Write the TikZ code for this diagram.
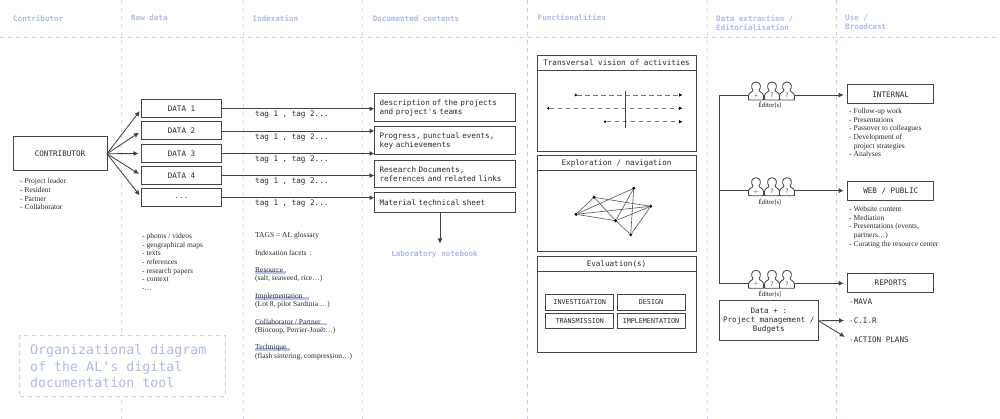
\documentclass[tikz,border=0pt]{standalone}
\usepackage{fontspec}
\setmainfont{Liberation Serif}
\setmonofont{DejaVu Sans Mono}
\newfontfamily\edfont{Carlito}
\usetikzlibrary{arrows.meta,calc}
\definecolor{guide}{HTML}{D3D7F3}
\definecolor{guideb}{HTML}{CBD1F2}
\definecolor{headblue}{HTML}{AFBAE8}
\definecolor{hilite}{HTML}{B7C3EE}
\definecolor{ink}{HTML}{444444}
\definecolor{txt}{HTML}{2A2A2A}
\tikzset{
  x=1pt,y=-1pt,
  guideline/.style={draw=guide,line width=0.9pt,dash pattern=on 4pt off 4pt},
  guidebold/.style={draw=guideb,line width=1pt,dash pattern=on 4pt off 4pt},
  header/.style={anchor=west,inner sep=0,font=\ttfamily\bfseries\fontsize{7.55}{9}\selectfont,text=headblue,align=left},
  box/.style={draw=ink,line width=1pt,fill=white,outer sep=0pt,font=\ttfamily\fontsize{7.6}{9.3}\selectfont,text=txt,inner sep=0,align=center},
  lbox/.style={box,align=left,text width=134pt},
  arr/.style={draw=ink,line width=0.85pt,-{Latex[length=5pt,width=5pt]}},
  plain/.style={draw=ink,line width=0.85pt},
  mono/.style={anchor=west,inner sep=0,font=\ttfamily\fontsize{7.6}{9}\selectfont,text=txt},
  serif/.style={anchor=west,inner sep=0,font=\fontsize{7.5}{8.67}\selectfont,text=txt,align=left},
  ser/.style={serif,text=txt},
  dotn/.style={circle,fill=black,inner sep=0,minimum size=3.4pt},
  smalldot/.style={circle,fill=black,inner sep=0,minimum size=2.6pt},
  netedge/.style={draw=ink!85,line width=0.65pt},
  edl/.style={inner sep=0,font=\edfont\fontsize{6.6}{8}\selectfont,text=txt},
  edgroup/.style={inner sep=0,outer sep=0pt,minimum width=44.6pt,minimum height=20pt},
  person/.pic={
    \path[draw=ink,line width=0.85pt,fill=white]
      (-7.5,3.5) -- (-7.5,1) .. controls (-7.5,-3) and (-3,-2.5) .. (-3,-5)
      .. controls (-5.5,-7) and (-5,-13) .. (0,-13)
      .. controls (5,-13) and (5.5,-7) .. (3,-5)
      .. controls (3,-2.5) and (7.5,-3) .. (7.5,1) -- (7.5,3.5)
      .. controls (7.5,5) and (7.5,5) .. (6,5) -- (-6,5)
      .. controls (-7.5,5) and (-7.5,5) .. (-7.5,3.5) -- cycle;
    \node[inner sep=0,font=\fontsize{6.5}{7}\selectfont\sffamily,text=txt] at (0,0.7) {\tikzpictext};
  }
}
\begin{document}
\begin{tikzpicture}
\useasboundingbox (0,0) rectangle (1000,419);
\fill[white] (0,0) rectangle (1000,419);
% guides
\foreach \gx in {121.5,243.5,362.5,707.5} \draw[guideline] (\gx,0) -- (\gx,419);
\foreach \gx in {527,836} \draw[guidebold] (\gx,0) -- (\gx,419);
\draw[guidebold] (0,37.5) -- (1000,37.5);
% headers
\node[header] (h1) at (13,18) {Contributor};
\node[header] (h2) at (131,18) {Raw data};
\node[header] (h3) at (252.5,18) {Indexation};
\node[header] (h4) at (372.7,18.5) {Documented contents};
\node[header] (h5) at (537.5,17.5) {Functionalities};
\node[header,anchor=north west] (h6) at (716,15) {Data extraction /\\Editorialisation};
\node[header,anchor=north west] (h7) at (845,15) {Use /\\Broadcast};
% title
\node[draw=guideb,line width=0.9pt,dash pattern=on 4pt off 4pt,fill=white,outer sep=0pt,anchor=north west,inner sep=0,minimum width=206pt,minimum height=60.5pt] (titlebox) at (19.5,335.5) {};
\node[anchor=north west,inner sep=0,align=left,font=\ttfamily\fontsize{13.3}{16.4}\selectfont,text=headblue] (title) at (30,344.3) {Organizational diagram\\of the AL's digital\\documentation tool};
% contributor
\node[box,anchor=north west,minimum width=94pt,minimum height=34.5pt] (con) at (13,136.5) {CONTRIBUTOR};
\node[ser,anchor=north west] (conl) at (20,178.5) {- Project leader\\- Resident\\- Partner\\- Collaborator};
% data
\node[box,anchor=north west,minimum width=80pt,minimum height=18.5pt] (d1) at (141.5,99.5) {DATA 1};
\node[box,anchor=north west,minimum width=80pt,minimum height=18pt] (d2) at (141.5,122) {DATA 2};
\node[box,anchor=north west,minimum width=80pt,minimum height=18pt] (d3) at (141.5,144.5) {DATA 3};
\node[box,anchor=north west,minimum width=80pt,minimum height=18pt] (d4) at (141.5,166.5) {DATA 4};
\node[box,anchor=north west,minimum width=80pt,minimum height=18.5pt] (d5) at (141.5,188.5) {...};
\foreach \n in {d1,d2,d3,d4,d5} \draw[arr,shorten >=3pt] (con.east) -- (\n.west);
% raw list
\node[ser,anchor=north west] (rawl) at (142,233) {- photos / videos\\- geographical maps\\- texts\\- references\\- research papers\\- context\\-…};
% contents
\node[lbox,anchor=north west,minimum height=27.5pt,text width=141pt] (c1) at (374.5,94) {\hspace*{5pt}description of the projects\\\hspace*{5pt}and project's teams};
\node[lbox,anchor=north west,minimum height=28.5pt,text width=141pt] (c2) at (374.5,126.5) {\hspace*{5pt}Progress, punctual events,\\\hspace*{5pt}key achievements};
\node[lbox,anchor=north west,minimum height=27.5pt,text width=141pt] (c3) at (374.5,160.5) {\hspace*{5pt}Research Documents,\\\hspace*{5pt}references and related links};
\node[lbox,anchor=north west,minimum height=20pt,text width=141pt] (c4) at (374.5,193) {\hspace*{5pt}Material technical sheet};
% data to contents
\draw[arr] (d1.east) -- (d1.east -| c1.west);
\draw[arr] (d2.east) -- (d2.east -| c2.west);
\draw[arr] (d3.east) -- (d3.east -| c2.west);
\draw[arr] (d4.east) -- (d4.east -| c3.west);
\draw[arr] (d5.east) -- (d5.east -| c4.west);
% tags
\node[mono] (t1) at (255,114.5) {tag 1 , tag 2...};
\node[mono] (t2) at (255,137) {tag 1 , tag 2...};
\node[mono] (t3) at (255,159) {tag 1 , tag 2...};
\node[mono] (t4) at (255,181.5) {tag 1 , tag 2...};
\node[mono] (t5) at (255,203) {tag 1 , tag 2...};
% notebook
\coordinate (nbtop) at (440,213);
\coordinate (nbend) at (440,243.5);
\draw[arr] (nbtop) -- (nbend);
\node[header,anchor=center] (nb) at (434.5,254) {Laboratory notebook};
% index facets
\fill[hilite] (255,271) rectangle (286,273.8);
\fill[hilite] (255,296.7) rectangle (309,299.5);
\fill[hilite] (255,322.5) rectangle (327,325.3);
\fill[hilite] (255,348.3) rectangle (290,351.1);
\node[ser] (i0) at (255,235.8) {TAGS = AL glossary};
\node[ser] (i1) at (255,253.2) {Indexation facets\, :};
\node[ser] (i2) at (255,270.5) {Resource};
\node[ser] (i3) at (255,279) {(salt, seaweed, rice…)};
\node[ser] (i4) at (255,296.5) {Implementation};
\node[ser] (i5) at (255,305) {(Lot 8, pilot Sardinia …)};
\node[ser] (i6) at (255,322.2) {Collaborator / Partner};
\node[ser] (i7) at (255,331) {(Biocoop, Perrier-Jouët…)};
\node[ser] (i8) at (255,348) {Technique};
\node[ser] (i9) at (255,356.5) {(flash sintering, compression…)};
% panels
\node[box,anchor=north west,minimum width=159pt,minimum height=15pt] (p1h) at (537,55.5) {Transversal vision of activities};
\node[box,anchor=north west,minimum width=159pt,minimum height=81pt] (p1) at (537,70.5) {};
\node[box,anchor=north west,minimum width=159pt,minimum height=15pt] (p2h) at (537,156) {Exploration / navigation};
\node[box,anchor=north west,minimum width=159pt,minimum height=81pt] (p2) at (537,171) {};
\node[box,anchor=north west,minimum width=159pt,minimum height=15pt] (p3h) at (537,256.5) {Evaluation(s)};
\node[box,anchor=north west,minimum width=159pt,minimum height=81pt] (p3) at (537,271.5) {};
% timeline
\node[smalldot] (a1) at (575.7,95) {};
\coordinate (b1) at (682.5,95);
\node[smalldot] (a2) at (548.3,108.3) {};
\coordinate (b2) at (682.5,108.3);
\node[smalldot] (a3) at (605,121.7) {};
\coordinate (b3) at (682.5,121.7);
\foreach \s/\e in {a1/b1,a2/b2,a3/b3} \draw[draw=ink!75,line width=0.55pt,dash pattern=on 4.5pt off 3.5pt,-{Latex[length=3.5pt,width=3.5pt,black]}] (\s) -- (\e);
\coordinate (vt) at (625,91);
\coordinate (vb) at (625,128);
\draw[draw=ink,line width=1pt] (vt) -- (vb);
% network
\node[dotn] (na) at (576,214.3) {};
\node[dotn] (nb1) at (594,197.3) {};
\node[dotn] (nc) at (633.7,188.3) {};
\node[dotn] (nd) at (650.7,206.3) {};
\node[dotn] (ne) at (615.7,220.7) {};
\node[dotn] (nf) at (630.7,234.7) {};
\foreach \s/\e in {na/nb1,na/nc,na/nd,na/ne,nb1/ne,nb1/nd,nc/ne,nc/nf,nd/ne,nd/nf,ne/nf} \draw[netedge] (\s) -- (\e);
% evaluation boxes
\tikzset{evbox/.style={box,anchor=north west,minimum width=68pt,minimum height=15.7pt,font=\ttfamily\fontsize{6.7}{8}\selectfont}}
\node[evbox] (v1) at (545.7,294.3) {INVESTIGATION};
\node[evbox] (v2) at (617,294.3) {DESIGN};
\node[evbox] (v3) at (545.7,313) {TRANSMISSION};
\node[evbox] (v4) at (617,313) {IMPLEMENTATION};
% outputs
\node[box,anchor=north west,minimum width=86pt,minimum height=18.6pt] (o1) at (847.7,85) {INTERNAL};
\node[box,anchor=north west,minimum width=86pt,minimum height=18.6pt] (o2) at (847.7,181.7) {WEB / PUBLIC};
\node[box,anchor=north west,minimum width=86pt,minimum height=18.6pt] (o3) at (847.7,273.7) {REPORTS};
\node[edgroup] (e1) at (772,95) {};
\node[edgroup] (e2) at (772,190.7) {};
\node[edgroup] (e3) at (772,283.3) {};
\coordinate (trtop) at (719.3,95);
\coordinate (tr2) at (719.3,190.7);
\draw[plain] (e1.west) -- (trtop) -- (trtop |- e3.west) -- (e3.west);
\draw[plain] (tr2) -- (e2.west);
\draw[arr,shorten >=4pt] (e1.east) -- (e1.east -| o1.west);
\draw[arr,shorten >=4pt] (e2.east) -- (e2.east -| o2.west);
\draw[arr,shorten >=4pt] (e3.east) -- (e3.east -| o3.west);
\foreach \r in {95,190.7,283.3}{
  \pic[pic text={+}] at (756,\r) {person};
  \pic[pic text={?}] at (772,\r) {person};
  \pic[pic text={?}] at (787,\r) {person};
}
\node[edl] (el1) at (770,105.7) {Éditor(s)};
\node[edl] (el2) at (770,202.3) {Éditor(s)};
\node[edl] (el3) at (770,294) {Éditor(s)};
% output lists
\node[ser,anchor=north west] (ol1) at (849,108) {- Follow-up work\\- Presentations\\- Passover to colleagues\\- Development of\\\hspace*{4.6pt}project strategies\\- Analyses};
\node[ser,anchor=north west] (ol2) at (849,206) {- Website content\\- Mediation\\- Presentations (events,\\\hspace*{4.6pt}partners…)\\- Curating the resource center};
\node[box,anchor=north west,minimum width=99pt,minimum height=40pt] (dp) at (719.3,300.7) {Data + :\\Project management /\\Budgets};
\node[mono] (m1) at (849,301.5) {-MAVA};
\node[mono] (m2) at (849,320.5) {-C.I.R};
\node[mono] (m3) at (849,339.5) {-ACTION PLANS};
\draw[arr,shorten >=5pt] (dp.east) -- (m2.west);
\draw[arr,shorten >=5pt] (dp.east) -- (m3.west);
\end{tikzpicture}
\end{document}
